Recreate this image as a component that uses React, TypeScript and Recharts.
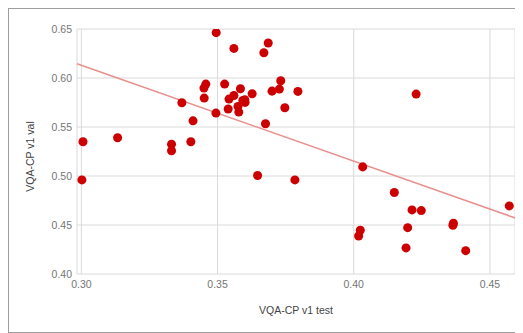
import {
  CartesianGrid, Label, ReferenceLine, Scatter, ScatterChart, XAxis, YAxis, ZAxis,
} from "recharts";

// VQA-CP v1 test accuracy (x) vs val accuracy (y)
const testAcc = [
  0.3006, 0.3002, 0.3133, 0.3331, 0.3331, 0.3369, 0.3410, 0.3402, 0.3451, 0.3450,
  0.3457, 0.3495, 0.3494, 0.3526, 0.3542, 0.3539, 0.3560, 0.3560, 0.3575, 0.3578,
  0.3584, 0.3593, 0.3600, 0.3601, 0.3627, 0.3647, 0.3670, 0.3686, 0.3676, 0.3700,
  0.3727, 0.3732, 0.3747, 0.3784, 0.3795, 0.4033, 0.4024, 0.4018, 0.4149, 0.4214,
  0.4248, 0.4198, 0.4192, 0.4229, 0.4366, 0.4364, 0.4411, 0.4571,
];
const valAcc = [
  0.535, 0.496, 0.539, 0.5325, 0.5257, 0.5747, 0.5563, 0.535, 0.5795, 0.5897,
  0.5938, 0.6463, 0.5642, 0.5938, 0.5785, 0.5683, 0.5822, 0.6302, 0.571, 0.5652,
  0.589, 0.5771, 0.5778, 0.5751, 0.5839, 0.5005, 0.6258, 0.6357, 0.5533, 0.5866,
  0.5887, 0.5972, 0.5696, 0.496, 0.5863, 0.5093, 0.4446, 0.4388, 0.4831, 0.4654,
  0.4647, 0.4473, 0.4266, 0.5836, 0.4518, 0.4497, 0.4238, 0.4695,
];

// trendline end points as drawn
const trendX = [0.2984, 0.4592];
const trendY = [0.6146, 0.4572];

const xTicks = [0.3, 0.35, 0.4, 0.45];
const yTicks = [0.4, 0.45, 0.5, 0.55, 0.6, 0.65];

const points = testAcc.map((x, i) => ({ x, y: valAcc[i] }));

const FONT = "Arial, 'Liberation Sans', sans-serif";
const tickStyle = { fontSize: 10.5, fill: "#757575", fontFamily: FONT };

const XTitle = ({ viewBox }: any) => {
  const cx = viewBox.x + viewBox.width / 2;
  return (
    <text x={cx} y={305} textAnchor="middle" fontSize={10.5} fill="#444" fontFamily={FONT}>
      VQA-CP v1 test
    </text>
  );
};

const YTitle = ({ viewBox }: any) => {
  const cx = 21;
  const cy = viewBox.y + viewBox.height / 2 + 5;
  return (
    <text
      x={cx}
      y={cy}
      transform={`rotate(-90 ${cx} ${cy})`}
      textAnchor="middle"
      dominantBaseline="central"
      fontSize={10.5}
      fill="#444"
      fontFamily={FONT}
    >
      VQA-CP v1 val
    </text>
  );
};

export default function App() {
  return (
    <div
      style={{
        width: 514,
        height: 323,
        borderTop: "1px solid #9e9e9e",
        borderLeft: "1px solid #9e9e9e",
        borderBottom: "1px solid #9e9e9e",
        background: "#fff",
      }}
    >
      <ScatterChart width={514} height={323} margin={{ top: 20, right: 8, bottom: 8, left: 0 }}>
        <CartesianGrid stroke="#dadada" />
        <XAxis
          type="number"
          dataKey="x"
          domain={[trendX[0], trendX[1]]}
          ticks={xTicks}
          allowDataOverflow
          tickFormatter={(v: number) => v.toFixed(2)}
          tick={tickStyle}
          axisLine={false}
          tickLine={false}
          tickSize={0}
          tickMargin={7}
          height={50}
        >
          <Label content={XTitle} />
        </XAxis>
        <YAxis
          type="number"
          dataKey="y"
          domain={[0.4, 0.65]}
          ticks={yTicks}
          allowDataOverflow
          tickFormatter={(v: number) => v.toFixed(2)}
          tick={tickStyle}
          axisLine={false}
          tickLine={false}
          tickSize={0}
          tickMargin={5}
          width={68}
        >
          <Label content={YTitle} />
        </YAxis>
        <ZAxis range={[36, 36]} />
        <ReferenceLine
          segment={[
            { x: trendX[0], y: trendY[0] },
            { x: trendX[1], y: trendY[1] },
          ]}
          stroke="#e8908e"
          strokeWidth={1.6}
        />
        <Scatter data={points} fill="#cc0000" isAnimationActive={false} />
      </ScatterChart>
    </div>
  );
}
